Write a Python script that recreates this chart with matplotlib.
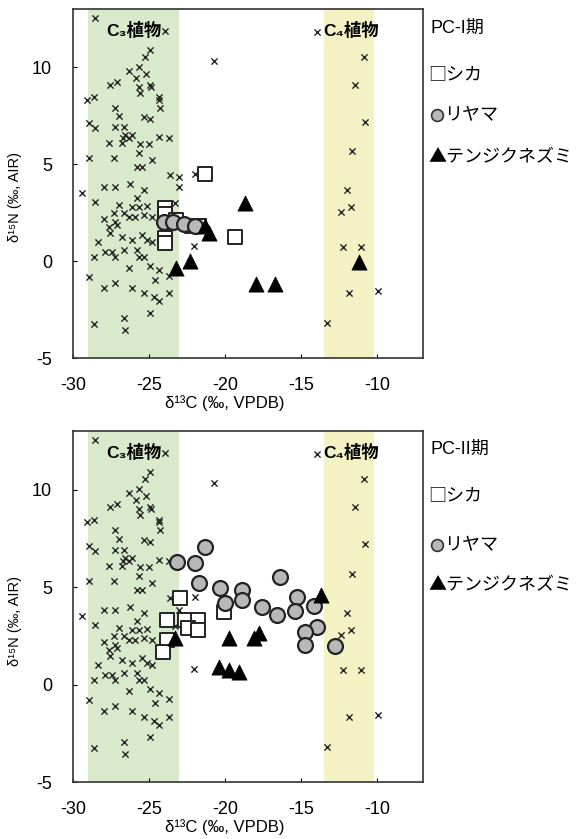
"""
Carbon / nitrogen isotope plot for PC-I and PC-II periods.
Plant background (C3 / C4) plus deer, llama and guinea-pig bone collagen.
"""
import matplotlib
matplotlib.use("Agg")
import matplotlib.pyplot as plt

plt.rcParams['font.family'] = ['Liberation Sans', 'Noto Sans CJK JP', 'DejaVu Sans']
plt.rcParams['axes.unicode_minus'] = False
JP = ['Noto Sans CJK JP', 'DejaVu Sans']

# ---------------- Data ----------------
# background plants (same in both panels)
c3_d13c = [-28.55, -23.95, -24.93, -25.26, -20.72, -26.32, -25.66, -25.86, -25.20, -27.57,
           -27.11, -25.66, -24.93, -25.59, -24.87, -29.08, -28.62, -24.34, -24.34, -24.28,
           -27.24, -26.97, -25.33, -24.93, -28.95, -28.55, -27.24, -26.64, -26.58, -26.12,
           -26.71, -26.32, -27.63, -26.78, -25.59, -25.00, -24.34, -23.68, -25.66, -28.95,
           -27.30, -24.80, -25.79, -25.46, -23.62, -23.03, -21.97, -23.03, -29.41, -27.96,
           -27.24, -26.25, -25.33, -28.55, -25.79, -26.97, -26.12, -25.66, -25.13, -23.29,
           -27.30, -26.64, -26.32, -25.92, -25.33, -24.80, -27.96, -27.24, -27.63, -27.11,
           -27.57, -26.78, -26.12, -25.46, -25.13, -24.80, -28.36, -28.62, -27.89, -27.43,
           -27.24, -26.64, -25.79, -25.66, -25.33, -26.32, -24.93, -24.34, -28.95, -23.68,
           -27.96, -27.24, -26.12, -25.33, -24.67, -24.34, -23.68, -24.61, -24.93, -26.64,
           -28.62, -26.58, -22.04]
c3_d15n = [12.54, 11.87, 10.89, 10.53, 10.32, 9.80, 10.01, 9.44, 9.65, 9.08,
           9.24, 8.98, 9.08, 8.67, 8.98, 8.31, 8.46, 8.46, 8.31, 7.90,
           7.90, 7.48, 7.43, 7.33, 7.12, 6.87, 6.92, 6.92, 6.51, 6.51,
           6.35, 6.35, 6.09, 6.09, 6.04, 6.04, 6.40, 6.35, 5.58, 5.32,
           5.32, 5.22, 4.86, 4.86, 4.44, 4.34, 4.49, 3.82, 3.52, 3.82,
           3.82, 3.98, 3.67, 3.05, 3.26, 2.90, 2.79, 2.79, 2.85, 3.00,
           2.48, 2.48, 2.28, 2.28, 2.38, 2.28, 2.18, 2.02, 1.76, 1.87,
           1.45, 1.25, 1.09, 1.35, 1.09, 0.99, 0.99, 0.22, 0.47, 0.47,
           0.22, 0.58, 0.58, 0.22, 0.22, -0.35, -0.25, -0.45, -0.81, -0.76,
           -1.38, -1.12, -1.38, -1.64, -1.85, -2.05, -1.64, -0.97, -2.67, -2.93,
           -3.24, -3.55, 0.78]
c4_d13c = [-13.95, -10.86, -11.45, -10.79, -11.64, -11.97, -12.37, -11.71, -12.24, -11.05,
           -11.84, -9.93, -13.29]
c4_d15n = [11.81, 10.53, 9.08, 7.18, 5.68, 3.67, 2.54, 2.79, 0.73, 0.73,
           -1.64, -1.54, -3.19]

# PC-I period
deer1_d13c = [-21.32, -23.95, -23.95, -23.95, -23.95, -23.20, -22.20, -21.70, -19.34]
deer1_d15n = [4.49, 2.74, 2.43, 1.19, 0.94, 2.10, 1.80, 1.80, 1.25]
llama1_d13c = [-24.00, -23.40, -22.70, -22.00]
llama1_d15n = [2.00, 2.00, 1.90, 1.80]
guinea1_d13c = [-18.68, -21.30, -21.05, -22.30, -23.20, -18.00, -16.70, -11.20]
guinea1_d15n = [3.00, 1.80, 1.45, 0.00, -0.35, -1.18, -1.18, -0.04]

# PC-II period
deer2_d13c = [-22.96, -23.82, -22.63, -21.78, -22.43, -21.78, -23.82, -24.08, -20.07]
deer2_d15n = [4.44, 3.31, 3.31, 3.31, 2.90, 2.79, 2.28, 1.67, 3.72]
llama2_d13c = [-21.32, -23.16, -21.97, -21.71, -20.33, -18.88, -20.00, -18.88, -16.38,
               -17.57, -16.58, -15.26, -15.39, -14.14, -13.95, -14.74, -14.74, -12.76]
llama2_d15n = [7.05, 6.28, 6.23, 5.21, 4.95, 4.85, 4.18, 4.33, 5.51,
               3.97, 3.56, 4.49, 3.77, 4.03, 2.95, 2.69, 2.03, 1.97]
guinea2_d13c = [-23.29, -19.74, -18.09, -17.76, -13.68, -20.39, -19.74, -19.08]
guinea2_d15n = [2.38, 2.38, 2.38, 2.64, 4.59, 0.90, 0.74, 0.64]

periods = ['PC-I期', 'PC-II期']
species = ['□シカ', 'リヤマ', '▲テンジクネズミ']
xticks = [-30, -25, -20, -15, -10]
yticks = [-5, 0, 5, 10]


# ---------------- Plotting ----------------
def draw_panel(fig, rect, deer, llama, guinea, period, legend_y):
    ax = fig.add_axes(rect)
    ax.axvspan(-29.0, -23.0, color='#d8eacb', lw=0, zorder=0)
    ax.axvspan(-13.5, -10.2, color='#f4f2c4', lw=0, zorder=0)

    # plant background
    ax.scatter(c3_d13c + c4_d13c, c3_d15n + c4_d15n, marker='x', s=20,
               c='#262626', linewidths=1.0, zorder=2)

    ax.scatter(deer[0], deer[1], marker='s', s=100, facecolor='white',
               edgecolor='#222222', linewidths=1.4, zorder=3)
    ax.scatter(llama[0], llama[1], marker='o', s=115, facecolor='#b8b8b8',
               edgecolor='#222222', linewidths=1.6, zorder=4)
    ax.scatter(guinea[0], guinea[1], marker='^', s=120, facecolor='black',
               edgecolor='black', linewidths=0.5, zorder=5)

    ax.text(-26.0, 11.9, 'C₃植物', fontsize=12.5, fontweight='bold',
            ha='center', va='center', zorder=6)
    ax.text(-11.7, 11.9, 'C₄植物', fontsize=12.5, fontweight='bold',
            ha='center', va='center', zorder=6)

    ax.set_xlim(-30, -7)
    ax.set_ylim(-5, 13)
    ax.set_xticks(xticks)
    ax.set_yticks(yticks)
    ax.tick_params(direction='in', length=3, labelsize=13, top=False, right=False)
    ax.tick_params(axis='x', pad=14)
    ax.tick_params(axis='y', pad=15)
    for s in ax.spines.values():
        s.set_linewidth(1.2)
        s.set_color('#333333')

    ax.set_xlabel('δ¹³C (‰, VPDB)', fontsize=12)
    ax.xaxis.set_label_coords(0.434, -0.105)
    ax.set_ylabel('δ¹⁵N (‰, AIR)', fontsize=10.5)
    ax.yaxis.set_label_coords(-0.145, 0.46)

    # legend written as text on the right
    lx = 0.737
    fig.text(lx, legend_y[0], period, fontsize=13, va='center', ha='left')
    fig.text(lx - 0.004, legend_y[1], species[0], fontsize=13, va='center', ha='left',
             family=JP)
    ax.plot([lx + 0.011], [legend_y[2]], 'o', ms=8.5, mfc='#b8b8b8', mec='#333333',
            mew=1.2, transform=fig.transFigure, clip_on=False)
    fig.text(lx + 0.024, legend_y[2], species[1], fontsize=13, va='center', ha='left',
             family=JP)
    fig.text(lx - 0.004, legend_y[3], species[2], fontsize=13, va='center', ha='left',
             family=JP)
    return ax


fig = plt.figure(figsize=(5.84, 8.39), dpi=100)
draw_panel(fig, [0.125, 0.5733, 0.599, 0.416],
           (deer1_d13c, deer1_d15n), (llama1_d13c, llama1_d15n), (guinea1_d13c, guinea1_d15n),
           periods[0], [0.966, 0.911, 0.863, 0.813])
draw_panel(fig, [0.125, 0.0679, 0.599, 0.4184],
           (deer2_d13c, deer2_d15n), (llama2_d13c, llama2_d15n), (guinea2_d13c, guinea2_d15n),
           periods[1], [0.464, 0.410, 0.350, 0.303])

fig.savefig('out.png', dpi=100)
